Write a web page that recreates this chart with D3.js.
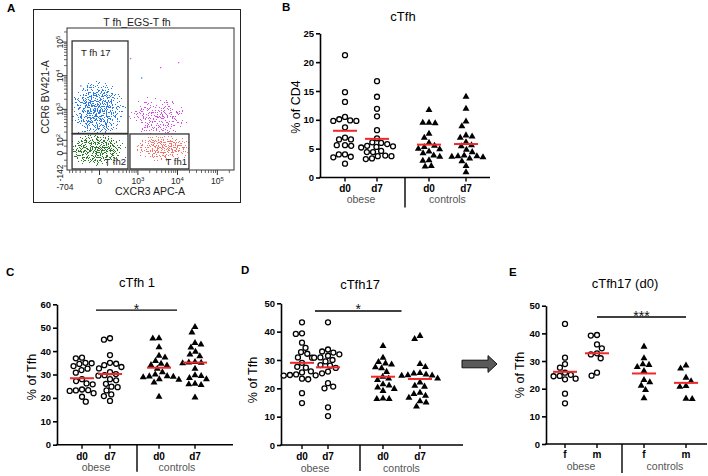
<!DOCTYPE html>
<html>
<head>
<meta charset="utf-8">
<script src="https://cdn.jsdelivr.net/npm/d3@7"></script>
<style>
  body { margin: 0; background: #fff; }
  svg { display: block; }
  text { font-family: "Liberation Sans", Arial, sans-serif; }
</style>
</head>
<body>
<div id="fig"></div>
<script>
// ------------------------------------------------------------------ data
const dayGroups = ["d0", "d7", "d0", "d7"];
const sexGroups = ["f", "m", "f", "m"];
const cohorts = ["obese", "controls"];

// B  cTfh, % of CD4
const bObeseD0 = [21.2, 14.8, 13.1, 10.5, 10.1, 9.9, 9.8, 9.8, 8.7, 6.9, 6.6, 6.6, 5.6, 5.5, 5.6, 4.0, 4.0, 3.6, 3.5, 2.4];
const bObeseD7 = [16.7, 14.0, 11.9, 10.6, 8.2, 6.8, 6.1, 6.0, 5.8, 5.5, 5.4, 5.3, 5.2, 4.6, 4.4, 4.4, 3.8, 3.7, 3.7, 3.3, 3.2];
const bCtrlD0 = [11.7, 9.5, 9.5, 9.4, 7.6, 6.9, 6.0, 5.5, 5.3, 5.0, 4.9, 4.5, 4.2, 3.8, 3.6, 3.0, 2.9, 2.0, 1.9];
const bCtrlD7 = [14.0, 11.9, 9.7, 8.9, 7.3, 7.1, 6.9, 6.1, 5.6, 5.4, 4.8, 4.4, 3.8, 3.7, 3.7, 3.6, 3.5, 3.3, 2.8, 2.0, 0.9];
const bMeans = [8.1, 6.7, 5.7, 5.8];
const bTicks = [0, 5, 10, 15, 20, 25];

// C  cTfh 1, % of Tfh
const cObeseD0 = [37.2, 36.9, 35.0, 34.8, 34.5, 33.6, 32.5, 31.9, 30.8, 28.0, 27.2, 26.2, 25.8, 23.6, 23.3, 23.2, 23.0, 22.0, 20.5, 18.4];
const cObeseD7 = [45.5, 44.9, 38.3, 35.0, 34.6, 34.0, 33.2, 32.6, 31.0, 30.2, 29.7, 29.5, 28.0, 27.5, 26.0, 24.8, 24.6, 23.2, 21.5, 20.8, 18.7];
const cCtrlD0 = [45.5, 45.4, 41.6, 38.0, 37.3, 35.8, 34.6, 34.0, 33.8, 32.5, 31.0, 30.0, 29.3, 29.2, 29.0, 28.8, 28.0, 27.8, 26.6, 20.5];
const cCtrlD7 = [50.3, 48.0, 43.5, 42.8, 41.5, 39.7, 38.5, 37.8, 35.3, 35.1, 35.0, 34.8, 32.5, 29.7, 29.4, 28.5, 28.0, 26.0, 25.8, 25.5, 20.2];
const cMeans = [28.4, 30.2, 32.9, 35.1];
const cTicks = [0, 10, 20, 30, 40, 50, 60];
const cSig = [0.5, 2.5, 57.5, "*"];

// D  cTfh17, % of Tfh
const dObeseD0 = [43.3, 39.4, 39.2, 36.1, 34.3, 32.8, 32.2, 30.9, 30.8, 29.0, 27.6, 27.3, 26.0, 25.6, 24.9, 24.7, 24.6, 24.5, 23.4, 23.2, 18.3, 14.8];
const dObeseD7 = [43.3, 33.7, 33.0, 32.6, 32.0, 31.5, 30.9, 30.8, 30.0, 29.5, 28.2, 28.0, 27.2, 25.9, 25.3, 21.8, 20.6, 20.0, 13.3, 10.2];
const dCtrlD0 = [34.9, 30.8, 29.3, 28.8, 28.4, 27.4, 27.1, 25.8, 24.1, 23.5, 22.9, 21.4, 21.0, 20.3, 19.8, 19.1, 16.4, 16.2, 16.2];
const dCtrlD7 = [38.5, 37.4, 28.6, 27.5, 25.4, 25.2, 24.9, 24.6, 24.5, 24.4, 23.5, 22.1, 20.9, 20.6, 18.4, 18.0, 17.4, 16.7, 15.4, 15.0, 13.6];
const dMeans = [29.0, 27.4, 24.1, 23.3];
const dTicks = [0, 10, 20, 30, 40, 50];
const dSig = [0.5, 2.5, 47.3, "*"];

// E  cTfh17 (d0) by sex, % of Tfh
const eObeseF = [43.4, 31.2, 28.9, 27.6, 25.8, 25.0, 24.6, 24.5, 23.6, 23.4, 18.2, 14.7];
const eObeseM = [39.4, 39.2, 36.0, 34.6, 32.8, 32.4, 31.0, 25.8, 24.7];
const eCtrlF = [35.2, 31.0, 28.8, 28.6, 27.8, 26.4, 23.1, 22.3, 21.1, 19.5, 16.5];
const eCtrlM = [28.4, 27.3, 24.0, 22.7, 21.0, 20.7, 16.4, 16.3];
const eMeans = [26.1, 32.8, 25.5, 22.1];
const eTicks = [0, 10, 20, 30, 40, 50];
const eSig = [1, 3, 45.9, "***"];

// A  flow plot (CXCR3 vs CCR6 on Tfh)
const flowXTicks = [-704, 0, 1e3, 1e4, 1e5];
const flowYTicks = [-142, 0, 1e2, 1e3, 1e4, 1e5];
// gate: name, xmin, xmax, ymin, ymax (channel values)
const flowGates = [
  ["T fh 17", -515, 550, 180, 108000],
  ["T fh2", -515, 550, -130, 173],
  ["T fh1", 620, 19400, -130, 173]
];
// population: name, center CXCR3, center CCR6, spread x / y (asinh units), density
const flowPops = [
  ["tfh17", -30, 960, 1.9, 2.4, 1.0],
  ["tfh2", -30, 22, 2.1, 1.3, 1.0],
  ["tfh1", 4600, 37, 2.0, 1.15, 0.95],
  ["dp", 3000, 560, 2.2, 1.75, 0.82]
];
const flowOutliers = [[620, 33800], [3630, 18260], [10270, 25650], [-300, 5200], [1200, 9000]];

// ------------------------------------------------------------------ setup
const W = 708, H = 476;
const svg = d3.select("#fig").append("svg").attr("width", W).attr("height", H);
const defs = svg.append("defs");

function letter(x, y, t) {
  svg.append("text").attr("x", x).attr("y", y).attr("font-size", 11.5)
    .attr("font-weight", "bold").text(t);
}

// ------------------------------------------------------------------ panel A
const popColor = { tfh17: "#2a7ae4", tfh2: "#2a7a2a", tfh1: "#f4746c", dp: "#d050e0" };
const popGate = { tfh17: 0, tfh2: 1, tfh1: 2, dp: -1 };
const popSeed = { tfh17: 4, tfh2: 11, tfh1: 23, dp: 37 };

const tx = v => Math.asinh(v / 220), ty = v => Math.asinh(v / 100);
const fx = d3.scaleLinear().domain([tx(-704), tx(262143)]).range([67, 234]);
const fy = d3.scaleLinear().domain([ty(-142), ty(262143)]).range([170, 28]);
const X = v => fx(tx(v)), Y = v => fy(ty(v));

const A = svg.append("g");
A.append("rect").attr("x", 33.5).attr("y", 9.5).attr("width", 207).attr("height", 193)
  .attr("fill", "none").attr("stroke", "#222").attr("stroke-width", 1);
A.append("text").attr("x", 137).attr("y", 26).attr("text-anchor", "middle")
  .attr("font-size", 10.5).attr("fill", "#222").text("T fh_EGS-T fh");

// clouds: a noise texture thresholded against a density gradient
flowPops.forEach(([name, cx, cy, sx, sy, dens]) => {
  const grad = defs.append("radialGradient").attr("id", "g-" + name);
  [[0, 1], [0.5, 0.88], [0.8, 0.55], [1, 0]].forEach(([o, a]) =>
    grad.append("stop").attr("offset", o).attr("stop-color", "#fff").attr("stop-opacity", a));

  const f = defs.append("filter").attr("id", "s-" + name)
    .attr("filterUnits", "userSpaceOnUse").attr("x", 60).attr("y", 20).attr("width", 185).attr("height", 160)
    .attr("color-interpolation-filters", "sRGB");
  f.append("feTurbulence").attr("type", "fractalNoise").attr("baseFrequency", 0.8)
    .attr("numOctaves", 2).attr("seed", popSeed[name]).attr("result", "noise");
  f.append("feColorMatrix").attr("in", "noise").attr("type", "matrix")
    .attr("values", "0 0 0 0 0  0 0 0 0 0  0 0 0 0 0  1 0 0 0 0").attr("result", "na");
  f.append("feComposite").attr("in", "SourceAlpha").attr("in2", "na").attr("operator", "arithmetic")
    .attr("k1", 0).attr("k2", 1.3 * dens).attr("k3", 3).attr("k4", -2.3).attr("result", "mix");
  const ct = f.append("feComponentTransfer").attr("in", "mix").attr("result", "dots");
  ct.append("feFuncA").attr("type", "discrete").attr("tableValues", "0 1");
  f.append("feFlood").attr("flood-color", popColor[name]).attr("result", "col");
  f.append("feComposite").attr("in", "col").attr("in2", "dots").attr("operator", "in");

  const gi = popGate[name];
  const clip = defs.append("clipPath").attr("id", "c-" + name).append("rect");
  if (gi >= 0) {
    const gt = flowGates[gi];
    clip.attr("x", X(gt[1])).attr("y", Y(gt[4])).attr("width", X(gt[2]) - X(gt[1])).attr("height", Y(gt[3]) - Y(gt[4]));
  } else {
    clip.attr("x", X(flowGates[0][2]) + 1).attr("y", fy.range()[1])
      .attr("width", fx.range()[1] - X(flowGates[0][2]) - 1)
      .attr("height", Y(flowGates[2][4]) - fy.range()[1]);
  }
  const px = X(cx), py = Y(cy);
  A.append("g").attr("clip-path", `url(#c-${name})`)
    .append("ellipse").attr("cx", px).attr("cy", py)
    .attr("rx", fx(tx(cx) + sx) - px).attr("ry", py - fy(ty(cy) + sy))
    .attr("fill", `url(#g-${name})`).attr("filter", `url(#s-${name})`);
});
A.selectAll(".out").data(flowOutliers).join("rect").attr("class", "out")
  .attr("x", d => X(d[0])).attr("y", d => Y(d[1])).attr("width", 1.3).attr("height", 1.3)
  .attr("fill", (d, i) => i < 3 ? popColor.dp : popColor.tfh17);

// plot frame and gates
A.append("rect").attr("x", fx.range()[0]).attr("y", fy.range()[1])
  .attr("width", fx.range()[1] - fx.range()[0]).attr("height", fy.range()[0] - fy.range()[1])
  .attr("fill", "none").attr("stroke", "#333").attr("stroke-width", 1);
flowGates.forEach(([name, x0, x1, y0, y1], i) => {
  A.append("rect").attr("x", X(x0)).attr("y", Y(y1)).attr("width", X(x1) - X(x0)).attr("height", Y(y0) - Y(y1))
    .attr("fill", "none").attr("stroke", "#333").attr("stroke-width", 1.3);
  const t = A.append("text").attr("font-size", 9.5).attr("fill", "#222").text(name);
  if (i === 0) t.attr("x", X(x0) + 9).attr("y", Y(y1) + 15);
  else t.attr("x", X(x1) - 2).attr("y", Y(y0) - 4).attr("text-anchor", "end");
});

// flow axes
function tickLabel(sel, v) {
  if (v >= 100) {
    sel.text("10");
    sel.append("tspan").attr("dy", "-0.45em").attr("font-size", "70%").text(Math.round(Math.log10(v)));
  } else sel.text(v);
}
const minorVals = k => d3.range(2, 10).map(m => m * Math.pow(10, k));
const xMinor = [].concat(d3.range(-600, 0, 100), d3.range(100, 1000, 100), minorVals(3), minorVals(4), [2e5]);
const yMinor = [].concat(d3.range(-100, 0, 50), [50], minorVals(2), minorVals(3), minorVals(4), [2e5]);
const yb = fy.range()[0], xl = fx.range()[0];
A.selectAll(".xmin").data(xMinor).join("line").attr("x1", X).attr("x2", X)
  .attr("y1", yb).attr("y2", yb + 3).attr("stroke", "#444").attr("stroke-width", 0.8);
A.selectAll(".xmaj").data(flowXTicks.slice(1)).join("line").attr("x1", X).attr("x2", X)
  .attr("y1", yb).attr("y2", yb + 5).attr("stroke", "#333").attr("stroke-width", 1);
A.selectAll(".ymin").data(yMinor).join("line").attr("y1", Y).attr("y2", Y)
  .attr("x1", xl).attr("x2", xl - 3).attr("stroke", "#444").attr("stroke-width", 0.8);
A.selectAll(".ymaj").data(flowYTicks.slice(1)).join("line").attr("y1", Y).attr("y2", Y)
  .attr("x1", xl).attr("x2", xl - 5).attr("stroke", "#333").attr("stroke-width", 1);

flowXTicks.forEach(v => {
  const t = A.append("text").attr("x", v < 0 ? X(v) - 2 : X(v)).attr("y", v < 0 ? 190 : 184)
    .attr("text-anchor", "middle").attr("font-size", 8.5).attr("fill", "#222");
  tickLabel(t, v);
});
flowYTicks.forEach(v => {
  const t = A.append("text").attr("transform", `translate(63,${v < 0 ? Y(v) + 3 : Y(v)}) rotate(-90)`)
    .attr("text-anchor", "middle").attr("font-size", 8.5).attr("fill", "#222");
  tickLabel(t, v);
});
A.append("text").attr("x", 150).attr("y", 195).attr("text-anchor", "middle")
  .attr("font-size", 10.5).attr("fill", "#222").text("CXCR3 APC-A");
A.append("text").attr("transform", "translate(49,97) rotate(-90)").attr("text-anchor", "middle")
  .attr("font-size", 10.5).attr("fill", "#222").text("CCR6 BV421-A");
letter(7, 12, "A");

// ------------------------------------------------------------------ dot plots
function swarm(vals, y, cx, d) {
  const order = vals.map((v, i) => i).sort((a, b) => vals[b] - vals[a]);
  const placed = [], out = new Array(vals.length);
  let flip = 1;
  order.forEach(i => {
    const yi = y(vals[i]);
    const near = placed.filter(p => Math.abs(p.y - yi) < d);
    const cands = [0];
    near.forEach(p => {
      const dx = Math.sqrt(d * d - (p.y - yi) ** 2);
      cands.push(p.x + dx, p.x - dx);
    });
    cands.sort((a, b) => (Math.abs(a) - Math.abs(b)) || (flip * (a - b)));
    const xi = cands.find(c => near.every(p => (p.x - c) ** 2 + (p.y - yi) ** 2 >= d * d - 0.01));
    if (xi !== 0) flip = -flip;
    placed.push({ x: xi, y: yi });
    out[i] = { x: cx + xi, y: yi };
  });
  return out;
}

function dotPanel(P) {
  const g = svg.append("g");
  const y = d3.scaleLinear().domain([0, d3.max(P.ticks)]).range([P.yB, P.yT]);
  const x = d3.scaleOrdinal().domain([0, 1, 2, 3]).range(P.gx);
  const at = f => { const i = Math.min(2, Math.floor(f)); return x(i) + (f - i) * (x(i + 1) - x(i)); };

  const ya = g.append("g").attr("transform", `translate(${P.x0},0)`)
    .call(d3.axisLeft(y).tickValues(P.ticks).tickSize(4).tickSizeOuter(0).tickPadding(2));
  ya.selectAll("path, line").attr("stroke", "#000").attr("stroke-width", 1.6);
  ya.selectAll("text").attr("font-size", 9.5).attr("font-weight", "bold")
    .attr("font-family", "Liberation Sans, Arial, sans-serif").attr("fill", "#000");

  g.append("line").attr("x1", P.x0 - 0.8).attr("x2", P.x1).attr("y1", P.yB).attr("y2", P.yB)
    .attr("stroke", "#000").attr("stroke-width", 1.6);
  P.labels.forEach((lab, i) => {
    g.append("line").attr("x1", x(i)).attr("x2", x(i)).attr("y1", P.yB).attr("y2", P.yB + 4)
      .attr("stroke", "#000").attr("stroke-width", 1.4);
    g.append("text").attr("x", x(i)).attr("y", P.lab).attr("text-anchor", "middle")
      .attr("font-size", 10).attr("font-weight", "bold").text(lab);
  });
  cohorts.forEach((c, k) => {
    g.append("text").attr("x", (x(2 * k) + x(2 * k + 1)) / 2).attr("y", P.lab + 11.5)
      .attr("text-anchor", "middle").attr("font-size", 10.5).attr("fill", "#555").text(c);
  });
  g.append("line").attr("x1", P.sep).attr("x2", P.sep).attr("y1", P.yB).attr("y2", P.yB + P.sepLen)
    .attr("stroke", "#000").attr("stroke-width", 1.4);

  g.append("text").attr("x", P.title[0]).attr("y", P.title[1]).attr("text-anchor", "middle")
    .attr("font-size", 13).text(P.title[2]);
  g.append("text").attr("transform", `translate(${P.ylab[0] + 4.5},${P.ylab[1]}) rotate(-90)`)
    .attr("text-anchor", "middle").attr("font-size", 12.5).text(P.ylab[2]);

  const tri = d3.symbol().type(d3.symbolTriangle).size(21)();
  P.series.forEach((vals, i) => {
    const pts = swarm(vals, y, x(i), 6.2);
    if (i < 2) {
      g.selectAll(null).data(pts).join("circle").attr("cx", d => d.x).attr("cy", d => d.y)
        .attr("r", 2.5).attr("fill", "#fff").attr("stroke", "#000").attr("stroke-width", 1.3);
    } else {
      g.selectAll(null).data(pts).join("path").attr("d", tri)
        .attr("transform", d => `translate(${d.x},${d.y})`).attr("fill", "#000");
    }
  });
  P.means.forEach((m, i) => {
    g.append("line").attr("x1", x(i) - 12).attr("x2", x(i) + 12).attr("y1", y(m)).attr("y2", y(m))
      .attr("stroke", "#f0282a").attr("stroke-width", 2);
  });
  if (P.sig) {
    const [a, b, v, s] = P.sig;
    g.append("line").attr("x1", at(a)).attr("x2", at(b)).attr("y1", y(v)).attr("y2", y(v))
      .attr("stroke", "#000").attr("stroke-width", 1.4);
    g.append("text").attr("x", (at(a) + at(b)) / 2).attr("y", y(v) + 3.5).attr("text-anchor", "middle")
      .attr("font-size", 14).attr("fill", "#111").text(s);
  }
}

dotPanel({ series: [bObeseD0, bObeseD7, bCtrlD0, bCtrlD7], means: bMeans, ticks: bTicks, labels: dayGroups,
  x0: 320, x1: 490, yT: 33.3, yB: 177.5, gx: [345, 377, 429, 466], sep: 405, sepLen: 30, lab: 191.5,
  title: [403, 21, "cTfh"], ylab: [295, 107, "% of CD4"] });
dotPanel({ series: [cObeseD0, cObeseD7, cCtrlD0, cCtrlD7], means: cMeans, ticks: cTicks, labels: dayGroups,
  x0: 57, x1: 233, yT: 304.3, yB: 444.7, gx: [82, 110, 159, 195], sep: 137, sepLen: 27, lab: 459.5,
  title: [137, 287, "cTfh 1"], ylab: [31, 377, "% of Tfh"], sig: cSig });
dotPanel({ series: [dObeseD0, dObeseD7, dCtrlD0, dCtrlD7], means: dMeans, ticks: dTicks, labels: dayGroups,
  x0: 281, x1: 463, yT: 303.3, yB: 445, gx: [302, 328, 383, 420], sep: 360, sepLen: 26, lab: 460,
  title: [360, 289, "cTfh17"], ylab: [252, 380, "% of Tfh"], sig: dSig });
dotPanel({ series: [eObeseF, eObeseM, eCtrlF, eCtrlM], means: eMeans, ticks: eTicks, labels: sexGroups,
  x0: 546, x1: 707, yT: 305.7, yB: 444, gx: [565, 597, 644, 686], sep: 622, sepLen: 29, lab: 458,
  title: [625, 288, "cTfh17 (d0)"], ylab: [519, 375, "% of Tfh"], sig: eSig });

letter(282, 11, "B");
letter(6, 276, "C");
letter(241, 274, "D");
letter(509, 276, "E");

// arrow between D and E
const ar = { x0: 462, x1: 497, head: 9, cy: 364, body: 3.8, half: 8.4 };
svg.append("path")
  .attr("d", d3.line()([
    [ar.x0, ar.cy - ar.body], [ar.x1 - ar.head, ar.cy - ar.body], [ar.x1 - ar.head, ar.cy - ar.half],
    [ar.x1, ar.cy], [ar.x1 - ar.head, ar.cy + ar.half], [ar.x1 - ar.head, ar.cy + ar.body], [ar.x0, ar.cy + ar.body]
  ]) + "Z")
  .attr("fill", "#5a5a5a").attr("stroke", "#111").attr("stroke-width", 1);
</script>
</body>
</html>
